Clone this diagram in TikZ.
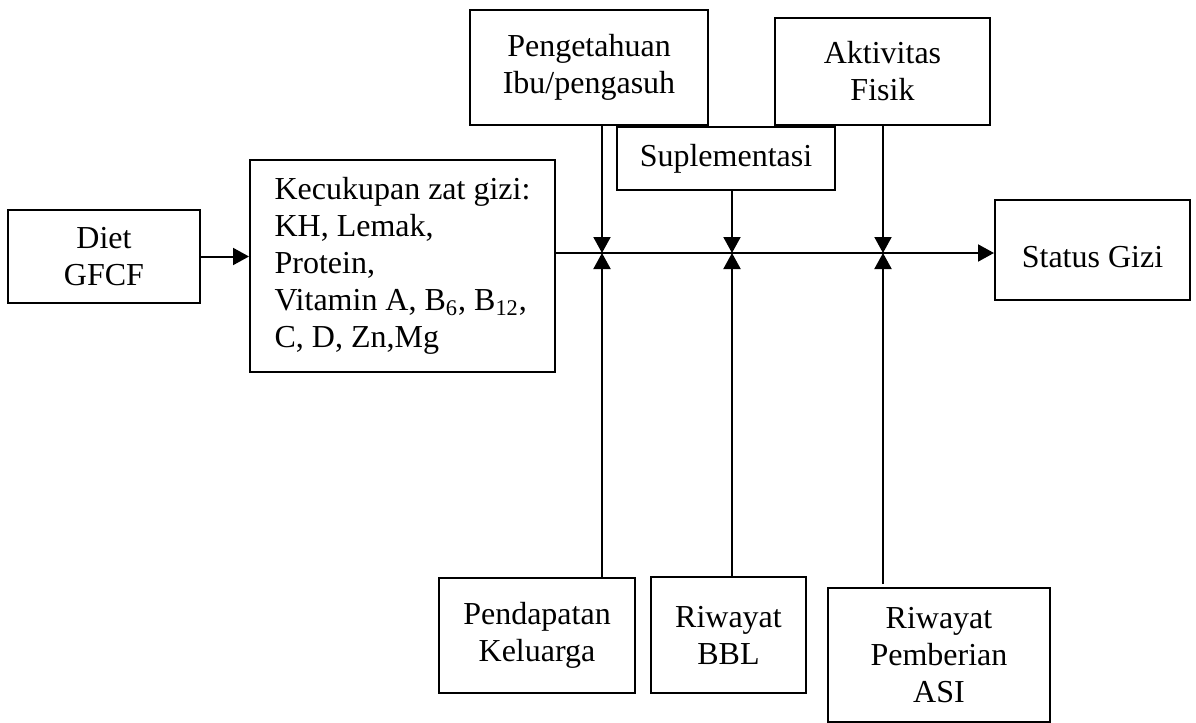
\documentclass[tikz,border=0pt]{standalone}
\usepackage{fontspec}
\setmainfont{Liberation Serif}
\usetikzlibrary{arrows.meta,calc}

\begin{document}
\begin{tikzpicture}[x=0.5pt,y=-0.5pt,
    box/.style={draw,line width=1pt,inner sep=0pt,align=center,
        font=\fontsize{16}{18.5}\selectfont},
    arr/.style={line width=1pt,-{Triangle[length=8pt,width=8.5pt]}}]

    \useasboundingbox (0,0) rectangle (1196,723);

    % left chain
    \node[box,minimum width=96pt,minimum height=46.5pt] (diet) at (104,256.5) {Diet\\GFCF};
    \node[box,align=left,minimum width=152.5pt,minimum height=106pt] (kecukupan) at (402.5,266)
        {Kecukupan zat gizi:\\KH, Lemak,\\Protein,\\Vitamin A, B\textsubscript{6}, B\textsubscript{12},\\C, D, Zn,Mg};
    \node[box,minimum width=97.5pt,minimum height=50pt] (status) at (1092.5,250)
        {\raisebox{-5pt}[11pt][3.5pt]{Status Gizi}};

    % factors above
    \node[box,minimum width=119pt,minimum height=57.5pt] (pengetahuan) at (589,67.5) {Pengetahuan\\Ibu/pengasuh};
    \node[box,minimum width=109pt,minimum height=31.5pt] (suplementasi) at (726,158.5) {Suplementasi};
    \node[box,minimum width=107.5pt,minimum height=53.5pt] (aktivitas) at (882.5,71.5) {Aktivitas\\Fisik};

    % factors below
    \node[box,minimum width=98pt,minimum height=57.5pt] (pendapatan) at (537,635.5) {Pendapatan\\Keluarga};
    \node[box,minimum width=77.5pt,minimum height=58pt] (bbl) at (728.5,635) {Riwayat\\BBL};
    \node[box,minimum width=111pt,minimum height=67pt] (asi) at (939,655) {Riwayat\\Pemberian\\ASI};

    % junctions on the main line
    \coordinate (j1) at (602,253);
    \coordinate (j2) at (732,253);
    \coordinate (j3) at (883,253);

    \draw[arr] (diet.east) -- (diet.east -| kecukupan.west);
    \draw[arr] (kecukupan.east |- j1) -- (status.west |- j1);

    \draw[arr] (pengetahuan.south -| j1) -- (j1);
    \draw[arr] (suplementasi.south -| j2) -- (j2);
    \draw[arr] (aktivitas.south -| j3) -- (j3);

    \draw[arr] (pendapatan.north -| j1) -- (j1);
    \draw[arr] (bbl.north -| j2) -- (j2);
    \draw[arr] ($(asi.north -| j3)+(0,-3)$) -- (j3);

\end{tikzpicture}
\end{document}
